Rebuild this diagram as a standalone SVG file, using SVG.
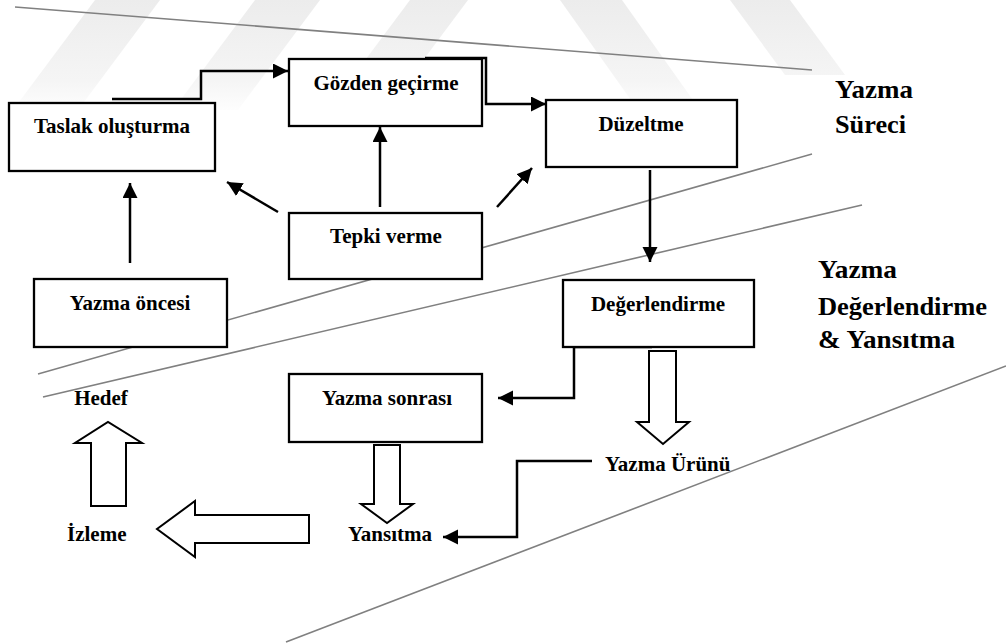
<svg xmlns="http://www.w3.org/2000/svg" width="1006" height="643" viewBox="0 0 1006 643">
  <style>
    .box { fill: #ffffff; stroke: #000000; stroke-width: 2.3; }
    .lbl { font-weight: bold; font-size: 21px; fill: #000000; }
    .zone { font-weight: bold; font-size: 25px; fill: #000000; }
    .conn { fill: none; stroke: #000000; stroke-width: 2.5; }
    .block { fill: #ffffff; stroke: #000000; stroke-width: 2; stroke-linejoin: miter; }
    .divider { stroke: #808080; stroke-width: 1.6; fill: none; }
    .mark { fill: url(#fade); }
  </style>
  <defs>
    <marker id="head" markerUnits="userSpaceOnUse" markerWidth="16" markerHeight="16" refX="15" refY="7.5" orient="auto">
      <path d="M0,0 L15,7.5 L0,15 Z" fill="#000000"/>
    </marker>
    <linearGradient id="fade" gradientUnits="userSpaceOnUse" x1="0" y1="0" x2="0" y2="115">
      <stop offset="0" stop-color="#ececec"/>
      <stop offset="0.7" stop-color="#f5f5f5"/>
      <stop offset="1" stop-color="#ffffff"/>
    </linearGradient>
  </defs>

  <rect width="1006" height="643" fill="#ffffff"/>

  <!-- faint background stripes -->
  <g id="background-stripes">
    <polygon class="mark" points="95,0 160,0 78,110 13,110"/>
    <polygon class="mark" points="255,0 320,0 238,110 173,110"/>
    <polygon class="mark" points="410,0 468,0 386,110 328,110"/>
    <polygon class="mark" points="560,0 622,0 700,110 638,110"/>
    <polygon class="mark" points="730,0 790,0 845,75 785,75"/>
  </g>

  <!-- zone dividers -->
  <g id="dividers">
    <line class="divider" x1="15" y1="7" x2="812" y2="70"/>
    <line class="divider" x1="38" y1="374" x2="812" y2="154"/>
    <line class="divider" x1="43" y1="397" x2="862" y2="205"/>
    <line class="divider" x1="286" y1="642" x2="1006" y2="366"/>
  </g>

  <!-- connectors -->
  <g id="connectors">
    <path class="conn" d="M112,99 H201 V71 H288" marker-end="url(#head)"/>
    <path class="conn" d="M425,58 H486 V104 H546" marker-end="url(#head)"/>
    <line class="conn" x1="380" y1="207" x2="380" y2="127" marker-end="url(#head)"/>
    <line class="conn" x1="278" y1="212" x2="227" y2="182" marker-end="url(#head)"/>
    <line class="conn" x1="497" y1="207" x2="532" y2="168" marker-end="url(#head)"/>
    <line class="conn" x1="130" y1="263" x2="130" y2="183" marker-end="url(#head)"/>
    <line class="conn" x1="650" y1="170" x2="650" y2="262" marker-end="url(#head)"/>
    <path class="conn" d="M652,347 H574 V398 H498" marker-end="url(#head)"/>
    <path class="conn" d="M592,461 H517 V537 H443" marker-end="url(#head)"/>
    <!-- outlined block arrows -->
    <path class="block" d="M649,351 H676 V422 H689 L663,444 L637,422 H649 Z"/>
    <path class="block" d="M374,445 H400 V504 H413 L387,523 L361,504 H374 Z"/>
    <path class="block" d="M309,515 V543 H195 V557 L157,529 L195,501 V515 Z"/>
    <path class="block" d="M91,506 V443 H75 L108,422 L142,443 H126 V506 Z"/>
  </g>

  <g font-family="'Liberation Serif', 'Times New Roman', 'DejaVu Serif', serif">
    <!-- process boxes -->
    <g id="taslak">
      <rect class="box" x="9" y="103" width="206" height="68"/>
      <text class="lbl" x="112" y="133" text-anchor="middle">Taslak oluşturma</text>
    </g>
    <g id="gozden">
      <rect class="box" x="289" y="59" width="193" height="67"/>
      <text class="lbl" x="386" y="90" text-anchor="middle">Gözden geçirme</text>
    </g>
    <g id="duzeltme">
      <rect class="box" x="546" y="100" width="191" height="67"/>
      <text class="lbl" x="641" y="131" text-anchor="middle">Düzeltme</text>
    </g>
    <g id="tepki">
      <rect class="box" x="289" y="213" width="193" height="66"/>
      <text class="lbl" x="386" y="243" text-anchor="middle">Tepki verme</text>
    </g>
    <g id="yazma-oncesi">
      <rect class="box" x="34" y="279" width="193" height="68"/>
      <text class="lbl" x="130" y="310" text-anchor="middle">Yazma öncesi</text>
    </g>
    <g id="degerlendirme">
      <rect class="box" x="563" y="280" width="191" height="67"/>
      <text class="lbl" x="658" y="311" text-anchor="middle">Değerlendirme</text>
    </g>
    <g id="yazma-sonrasi">
      <rect class="box" x="289" y="374" width="193" height="68"/>
      <text class="lbl" x="387" y="405" text-anchor="middle">Yazma sonrası</text>
    </g>

    <!-- free labels -->
    <g id="hedef"><text class="lbl" x="101" y="405" text-anchor="middle">Hedef</text></g>
    <g id="izleme"><text class="lbl" x="67" y="541">İzleme</text></g>
    <g id="yansitma"><text class="lbl" x="348" y="541">Yansıtma</text></g>
    <g id="yazma-urunu"><text class="lbl" x="605" y="471">Yazma Ürünü</text></g>

    <!-- zone titles -->
    <g id="zone-surec">
      <text class="zone" x="835" y="98" textLength="78" lengthAdjust="spacingAndGlyphs">Yazma</text>
      <text class="zone" x="835" y="133" textLength="71" lengthAdjust="spacingAndGlyphs">Süreci</text>
    </g>
    <g id="zone-degerlendirme">
      <text class="zone" x="818" y="278" textLength="79" lengthAdjust="spacingAndGlyphs">Yazma</text>
      <text class="zone" x="818" y="315" textLength="169" lengthAdjust="spacingAndGlyphs">Değerlendirme</text>
      <text class="zone" x="818" y="348" textLength="137" lengthAdjust="spacingAndGlyphs">&amp; Yansıtma</text>
    </g>
  </g>
</svg>
